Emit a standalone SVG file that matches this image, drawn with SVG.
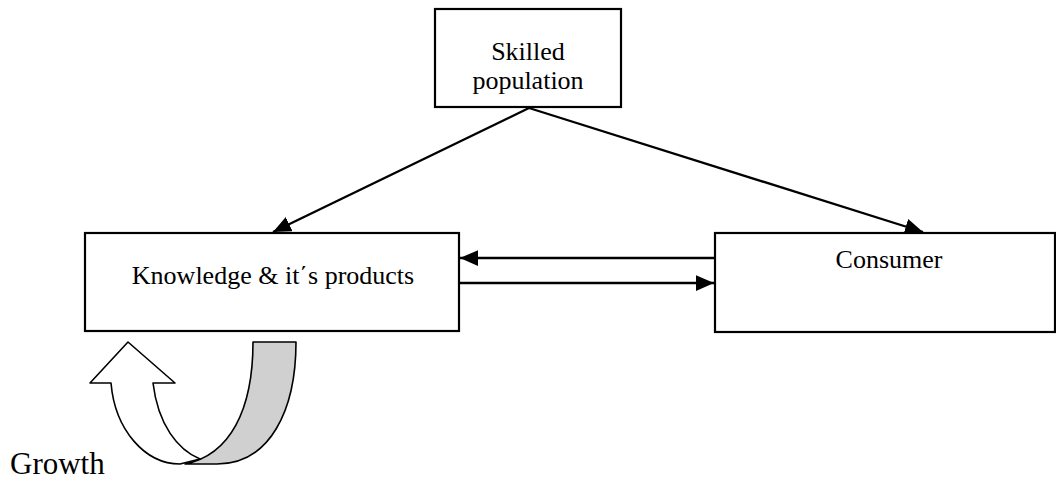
<svg xmlns="http://www.w3.org/2000/svg" width="1056" height="479" viewBox="0 0 1056 479">
<defs>
<style>
.box{fill:#fff;stroke:#000;stroke-width:2.2}
.lbl{font-family:"Liberation Serif","Times New Roman",serif;font-size:26px;fill:#000;text-anchor:middle}
.con{stroke:#000;stroke-width:2.3;fill:none}
.shape{stroke:#000;stroke-width:1.6;stroke-linejoin:round}
</style>
<marker id="ah" markerUnits="userSpaceOnUse" markerWidth="18" markerHeight="16" refX="16" refY="7" orient="auto" viewBox="0 0 16 14">
<path d="M0,0 L16,7 L0,14 Z" fill="#000"/>
</marker>
</defs>
<rect width="1056" height="479" fill="#fff"/>
<g id="node-skilled">
<rect class="box" x="435" y="9" width="186" height="98"/>
<text class="lbl" x="528" y="60">Skilled</text>
<text class="lbl" x="528" y="89">population</text>
</g>
<g id="node-knowledge">
<rect class="box" x="85" y="233" width="374" height="98"/>
<text class="lbl" x="273" y="284">Knowledge &amp; it΄s products</text>
</g>
<g id="node-consumer">
<rect class="box" x="715" y="233" width="340" height="99"/>
<text class="lbl" x="889" y="268">Consumer</text>
</g>
<g id="connectors">
<line class="con" x1="529" y1="108" x2="273" y2="232" marker-end="url(#ah)"/>
<line class="con" x1="529" y1="108" x2="923" y2="232" marker-end="url(#ah)"/>
<line class="con" x1="715" y1="258" x2="460" y2="258" marker-end="url(#ah)"/>
<line class="con" x1="459" y1="283" x2="714" y2="283" marker-end="url(#ah)"/>
</g>
<g id="node-growth-arrow">
<path class="shape" fill="#d0d0d0" d="M253,342 L296,342 C296,410 270,464 217,464 L185,464 C230,455 253,410 253,342 Z"/>
<path class="shape" fill="#fff" d="M128,342 L175,383 L153,383 C158,425 178,450 200,459 L180,464 C145,464 115,430 111,383 L90,383 Z"/>
</g>
<g id="node-growth">
<text x="10" y="474" font-family="Liberation Serif, Times New Roman, serif" font-size="31" fill="#000">Growth</text>
</g>
</svg>
